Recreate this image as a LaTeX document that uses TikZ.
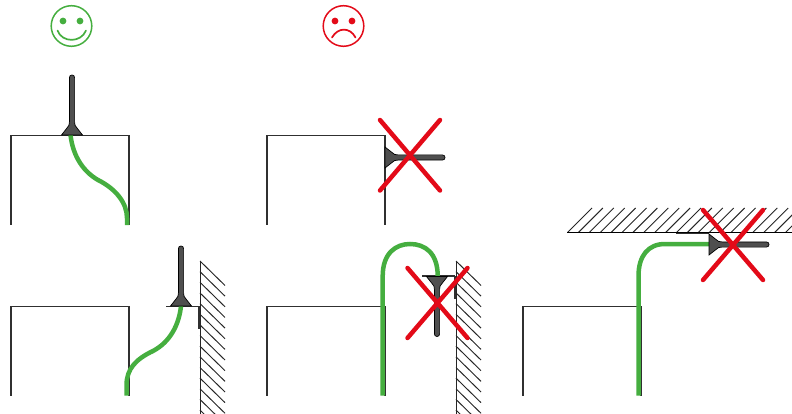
\documentclass[tikz,border=0pt]{standalone}
\definecolor{okgreen}{HTML}{45AE3F}
\definecolor{badred}{HTML}{E30A18}
\definecolor{steel}{HTML}{4F4F4F}
\definecolor{edgegray}{HTML}{303030}
\tikzset{
  x=1pt,y=-1pt,
  panel/.style={draw=edgegray,line width=1.1pt},
  cable/.style={draw=okgreen,line width=4.5pt},
  cross/.style={draw=badred,line width=4.5pt,line cap=round},
  plate/.style={draw=edgegray,line width=1.1pt},
  hatchline/.style={draw=black!85,line width=0.95pt},
  facering/.style={line width=1.5pt},
  pics/fastener/.style={code={
    \path[fill=steel,draw=black,line width=0.7pt]
      (0,-10.5) -- (7,-5) .. controls (9,-3) and (10,-2.6) .. (13,-2.6)
      -- (57.4,-2.6) .. controls (59,-2.6) and (60,-1.5) .. (60,0)
      .. controls (60,1.5) and (59,2.6) .. (57.4,2.6)
      -- (13,2.6) .. controls (10,2.6) and (9,3) .. (7,5) -- (0,10.5) -- cycle;
  }}
}
\begin{document}
\begin{tikzpicture}
\useasboundingbox (0,0) rectangle (792,414);

% faces
\draw[okgreen,facering] (71.5,26) circle (20.3);
\fill[okgreen] (63,21) circle (3.4) (80,21) circle (3.4);
\draw[okgreen,line width=1.7pt,line cap=round] (57.5,30.5) .. controls (62,43) and (81,43) .. (86,30.5);
\draw[badred,facering] (343.5,26) circle (20.3);
\fill[badred] (335,21) circle (3.4) (352,21) circle (3.4);
\draw[badred,line width=1.7pt,line cap=round] (332,37.5) .. controls (338,27) and (350,27) .. (355.5,37.5);

% hatching: right-hand walls
\begin{scope}
\clip (0,0) rectangle (792,414);
\foreach \wx in {200,456}{
  \draw[hatchline] (\wx,261) -- (\wx,414);
  \foreach \k in {0,...,14}{
    \draw[hatchline] (\wx,261+10.65*\k) -- (\wx+25,285.5+10.65*\k);
  }
}
% hatching: ceiling
\foreach \k in {0,...,20}{
  \draw[hatchline] (567.5+10.9*\k,232.5) -- (592+10.9*\k,208);
}
\draw[draw=black,line width=1.2pt] (567,232.5) -- (792,232.5);
\end{scope}

% panels
\draw[panel] (11,224.5) -- (11,135.3) -- (129,135.3) -- (129,224.5);
\draw[panel] (267,224.5) -- (267,135.3) -- (385,135.3) -- (385,224.5);
\draw[panel] (11,395.5) -- (11,306.3) -- (129,306.3) -- (129,395.5);
\draw[panel] (267,395.5) -- (267,306.3) -- (385,306.3) -- (385,395.5);
\draw[panel] (523,395.5) -- (523,306.3) -- (641,306.3) -- (641,395.5);

% mounting plates
\draw[plate] (166,306.3) -- (199,306.3);
\draw[plate,line width=1.6pt] (198.8,306) -- (198.8,329);
\draw[plate] (422,276) -- (455,276);
\draw[plate,line width=1.6pt] (454.8,276) -- (454.8,299);
\draw[plate,line width=1.6pt] (676,233.5) -- (709,233.5);

% cables
\draw[cable] (70.5,135) .. controls (73,157) and (84,172) .. (98,180)
  .. controls (116,189) and (127,203) .. (127,218) -- (127,225);
\draw[cable] (181,306) .. controls (179,325) and (170,342) .. (153,351)
  .. controls (136,359) and (126.5,369) .. (126.5,385) -- (126.5,395.5);
\draw[cable] (382.7,395.5) -- (382.7,276) .. controls (382.7,253) and (396,244) .. (410,244)
  .. controls (425,244) and (437.7,253) .. (437.7,276);
\draw[cable] (638.5,395.5) -- (638.5,276) .. controls (638.5,256) and (648,244) .. (665,244) -- (709,244);

% fasteners
\pic[rotate=90] at (72,135) {fastener};
\pic at (385,157.5) {fastener};
\pic[rotate=90] at (181,306) {fastener};
\pic[rotate=-90] at (437,276.5) {fastener};
\pic at (709,244.5) {fastener};

% crosses
\draw[cross] (380,120) -- (440,190.5) (440,120) -- (380,190.5);
\draw[cross] (407.5,268) -- (467.5,338) (467.5,268) -- (407.5,338);
\draw[cross] (703,210) -- (763,280) (763,210) -- (703,280);
\end{tikzpicture}
\end{document}
